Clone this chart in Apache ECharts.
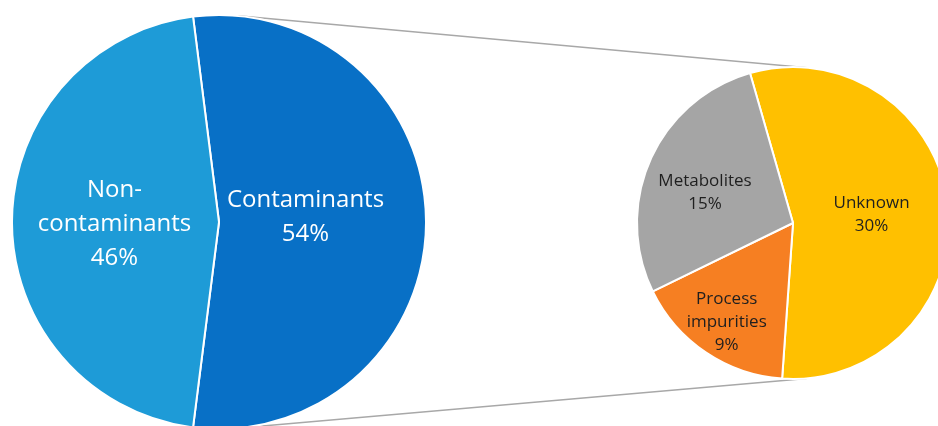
<!DOCTYPE html>
<html>
<head>
<meta charset="utf-8">
<script src="https://cdn.jsdelivr.net/npm/echarts@6/dist/echarts.min.js"></script>
<style>
  html, body { margin: 0; padding: 0; background: #fff; }
  #chart { width: 938px; height: 426px; }
</style>
</head>
<body>
<div id="chart"></div>
<script>
// Share of all compounds
const overviewNames = ['Contaminants', 'Non-\ncontaminants'];
const overviewValues = [54, 46];
const overviewColors = ['#0870C6', '#1E9BD7'];

// Breakdown of the contaminants share
const detailNames = ['Unknown', 'Process\nimpurities', 'Metabolites'];
const detailValues = [30, 9, 15];
const detailColors = ['#FFC000', '#F67F22', '#A5A5A5'];

// Pie geometry (pixels)
const bigPie = { cx: 219, cy: 222, r: 207 };
const smallPie = { cx: 793, cy: 223, r: 156 };

const chart = echarts.init(document.getElementById('chart'), null, { renderer: 'canvas' });

const fontFamily = '"Open Sans", "Noto Sans", sans-serif';

// External common tangents joining the two pies
function tangentLines(c1, c2) {
  const dx = c2.cx - c1.cx, dy = c2.cy - c1.cy;
  const d = Math.hypot(dx, dy);
  const ux = dx / d, uy = dy / d;
  const vx = -uy, vy = ux;
  const a = (c2.r - c1.r) / d;
  const lines = [];
  [1, -1].forEach(function (sign) {
    const b = sign * Math.sqrt(1 - a * a);
    const nx = a * ux + b * vx, ny = a * uy + b * vy;
    lines.push({
      x1: c1.cx - c1.r * nx, y1: c1.cy - c1.r * ny,
      x2: c2.cx - c2.r * nx, y2: c2.cy - c2.r * ny
    });
  });
  return lines;
}

const connectors = tangentLines(bigPie, smallPie).map(function (shape) {
  return {
    type: 'line',
    shape: shape,
    z: -1,
    silent: true,
    style: { stroke: '#A8A8A8', lineWidth: 1.5 }
  };
});

const overviewLabelOffsets = [[-20, -5], [2, 2]];
const detailLabelOffsets = [[-2, 0], [-21, 32], [-14, 3]];

chart.setOption({
  animation: false,
  backgroundColor: '#ffffff',
  graphic: connectors,
  series: [
    {
      type: 'pie',
      center: [bigPie.cx, bigPie.cy],
      radius: [0, bigPie.r],
      startAngle: 97.2,
      clockwise: true,
      avoidLabelOverlap: false,
      silent: true,
      itemStyle: { borderColor: '#ffffff', borderWidth: 2 },
      label: {
        show: true,
        position: 'inside',
        color: '#ffffff',
        fontFamily: fontFamily,
        fontSize: 24,
        lineHeight: 34,
        align: 'center',
        formatter: function (p) { return p.name + '\n' + p.value + '%'; }
      },
      labelLine: { show: false },
      data: overviewNames.map(function (n, i) {
        return {
          name: n,
          value: overviewValues[i],
          itemStyle: { color: overviewColors[i] },
          label: { offset: overviewLabelOffsets[i] }
        };
      })
    },
    {
      type: 'pie',
      center: [smallPie.cx, smallPie.cy],
      radius: [0, smallPie.r],
      startAngle: 106,
      clockwise: true,
      avoidLabelOverlap: false,
      silent: true,
      itemStyle: { borderColor: '#ffffff', borderWidth: 2 },
      label: {
        show: true,
        position: 'inside',
        color: '#1f1f1f',
        fontFamily: fontFamily,
        fontSize: 17,
        lineHeight: 23,
        align: 'center',
        formatter: function (p) { return p.name + '\n' + p.value + '%'; }
      },
      labelLine: { show: false },
      data: detailNames.map(function (n, i) {
        return {
          name: n,
          value: detailValues[i],
          itemStyle: { color: detailColors[i] },
          label: { offset: detailLabelOffsets[i] }
        };
      })
    }
  ]
});
</script>
</body>
</html>
